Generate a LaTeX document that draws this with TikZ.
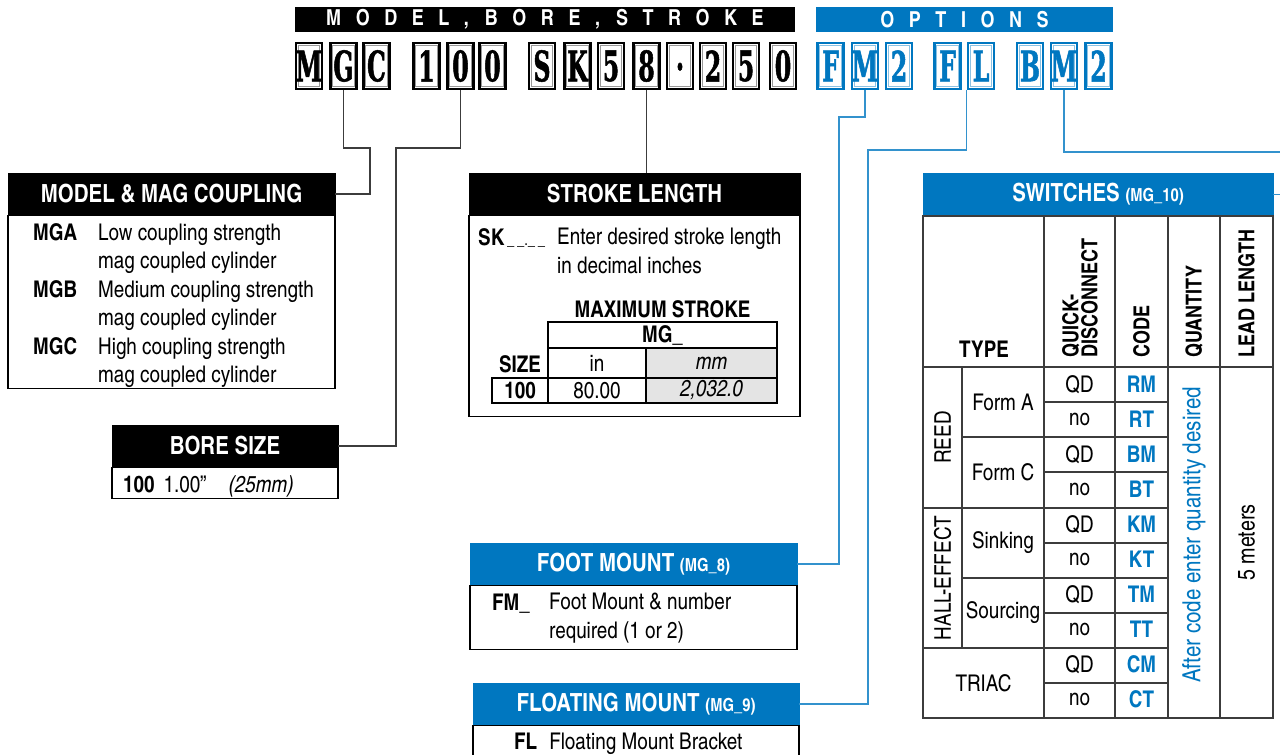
\documentclass[tikz,border=0pt]{standalone}
\usepackage{fontspec}
\setmainfont{texgyreheroscn}[Extension=.otf, UprightFont=*-regular, BoldFont=*-bold, ItalicFont=*-italic, BoldItalicFont=*-bolditalic]
\newfontfamily\slabfont{DejaVu Serif}[UprightFont={* Bold}, FakeStretch=0.56, FakeBold=1.2]
\usetikzlibrary{positioning,calc}
\definecolor{optblue}{RGB}{0,119,192}
\definecolor{gridgray}{RGB}{60,60,60}
\definecolor{cellgray}{RGB}{228,228,228}

\begin{document}
\begin{tikzpicture}[x=1pt, y=-1pt, every node/.style={font=\fontsize{23}{28.5}\selectfont, inner sep=0pt}]
  \tikzset{
    blackkey/.style={draw=black, line width=2.6pt, fill=white, minimum width=26pt, minimum height=46pt,
      font=\slabfont\fontsize{42}{42}\selectfont,
      path picture={\draw[black!40, line width=0.9pt] ([shift={(2.2pt,-2.2pt)}]path picture bounding box.north west) rectangle ([shift={(-2.2pt,2.2pt)}]path picture bounding box.south east);}},
    bluekey/.style={blackkey, draw=optblue, text=optblue,
      path picture={\draw[optblue!45, line width=0.9pt] ([shift={(2.2pt,-2.2pt)}]path picture bounding box.north west) rectangle ([shift={(-2.2pt,2.2pt)}]path picture bounding box.south east);}},
    bar/.style={fill=black, text=white, minimum height=25pt, font=\bfseries\fontsize{22}{22}\selectfont\addfontfeature{LetterSpace=66}},
    headbox/.style={fill=black, draw=black, text=white, minimum height=42pt, font=\bfseries\fontsize{25}{25}\selectfont},
    blueheadbox/.style={headbox, fill=optblue, draw=optblue},
    bodybox/.style={draw=black, line width=1.2pt, fill=white},
    lead/.style={draw=gridgray, line width=1.2pt},
    bluelead/.style={draw=optblue!80, line width=1.2pt},
    cell/.style={draw=black, line width=1.2pt},
    thingrid/.style={draw=gridgray, line width=1.3pt},
    thickgrid/.style={draw=gridgray, line width=2.2pt},
    colhead/.style={rotate=90, anchor=west, align=left, font=\bfseries\fontsize{22}{19}\selectfont}
  }
  \useasboundingbox (0,0) rectangle (1280,755);

  % order code
  \node[bar, minimum width=500] (mbsBar) at (545,19.5) {MODEL,\hspace*{16pt}BORE,\hspace*{16pt}STROKE};
  \node[bar, fill=optblue, minimum width=297] (optBar) at (964.5,19.5) {OPTIONS};

  \node[blackkey] (mM) at (309,66) {M};
  \node[blackkey] (mG) at (343.5,66) {G};
  \node[blackkey] (mC) at (376.5,66) {C};
  \node[blackkey] (b1) at (426.5,66) {1};
  \node[blackkey] (b0a) at (460.5,66) {0};
  \node[blackkey] (b0b) at (492.5,66) {0};
  \node[blackkey] (sS) at (542,66) {S};
  \node[blackkey] (sK) at (577.5,66) {K};
  \node[blackkey] (s5) at (611,66) {5};
  \node[blackkey] (s8) at (646.5,66) {8};
  \node[blackkey] (sDot) at (680,66) {\vphantom{0}·};
  \node[blackkey] (s2) at (713,66) {2};
  \node[blackkey] (s5b) at (746,66) {5};
  \node[blackkey] (s0) at (783,66) {0};

  \node[bluekey] (fmF) at (830.5,66) {F};
  \node[bluekey] (fmM) at (865,66) {M};
  \node[bluekey] (fm2) at (899,66) {2};
  \node[bluekey] (flF) at (947.5,66) {F};
  \node[bluekey] (flL) at (981,66) {L};
  \node[bluekey] (swB) at (1030,66) {B};
  \node[bluekey] (swM) at (1064,66) {M};
  \node[bluekey] (sw2) at (1098.5,66) {2};

  % model
  \node[headbox, minimum width=327] (modelHead) at (171.5,194) {MODEL \& MAG COUPLING};
  \node[bodybox, minimum width=327, minimum height=173, anchor=north] (modelBody) at (modelHead.south) {};
  \node[anchor=base west, align=left] (modelText) at (33,382.5)
    {\makebox[65pt][l]{\bfseries MGA}Low coupling strength\\
     \hspace*{65pt}mag coupled cylinder\\
     \makebox[65pt][l]{\bfseries MGB}Medium coupling strength\\
     \hspace*{65pt}mag coupled cylinder\\
     \makebox[65pt][l]{\bfseries MGC}High coupling strength\\
     \hspace*{65pt}mag coupled cylinder};

  % bore
  \node[headbox, minimum width=226] (boreHead) at (225,446) {BORE SIZE};
  \node[bodybox, minimum width=226, minimum height=31, anchor=north] (boreBody) at (boreHead.south) {};
  \node[anchor=base west] (boreText) at (123,492) {\textbf{100}\hspace{9pt}1.00”\hspace{22pt}\textit{(25mm)}};

  % stroke
  \node[headbox, minimum width=331] (strokeHead) at (634.5,194) {STROKE LENGTH};
  \node[bodybox, minimum width=331, minimum height=201, anchor=north] (strokeBody) at (strokeHead.south) {};
  \node[anchor=base west] (skCode) at (478,245) {\textbf{SK}{\fontsize{16}{16}\selectfont\,\_\,\_.\_\,\_}};
  \node[anchor=base west, align=left] (skText) at (557,273) {Enter desired stroke length\\in decimal inches};
  \node[anchor=base, font=\bfseries\fontsize{23}{23}\selectfont] (maxTitle) at (662.5,317) {MAXIMUM STROKE};
  \node[cell, minimum width=229, minimum height=26, font=\bfseries\fontsize{23}{23}\selectfont] (mgCell) at (662.5,335) {MG\_};
  \node[cell, minimum width=98, minimum height=30] (inCell) at (597,363) {in};
  \node[cell, fill=cellgray, minimum width=131, minimum height=30, font=\itshape\fontsize{23}{23}\selectfont] (mmCell) at (711.5,363) {mm};
  \node[anchor=base, font=\bfseries\fontsize{23}{23}\selectfont] (sizeText) at (520,372) {SIZE};
  \node[cell, minimum width=56, minimum height=25, font=\bfseries\fontsize{23}{23}\selectfont] (sizeCell) at (520,390.5) {100};
  \node[cell, minimum width=98, minimum height=25] (inVal) at (597,390.5) {80.00};
  \node[cell, fill=cellgray, minimum width=131, minimum height=25, font=\itshape\fontsize{23}{23}\selectfont] (mmVal) at (711.5,390.5) {2,032.0};

  % foot and floating mounts
  \node[blueheadbox, minimum width=327] (footHead) at (633.5,564) {FOOT MOUNT {\fontsize{18}{18}\selectfont(MG\_8)}};
  \node[bodybox, minimum width=327, minimum height=64, anchor=north] (footBody) at (footHead.south) {};
  \node[anchor=base west] (fmCode) at (492,610) {\textbf{FM\_}};
  \node[anchor=base west, align=left] (fmText) at (549,638) {Foot Mount \& number\\required (1 or 2)};

  \node[blueheadbox, minimum width=326] (floatHead) at (636,704) {FLOATING MOUNT {\fontsize{18}{18}\selectfont(MG\_9)}};
  \node[bodybox, minimum width=326, minimum height=30, anchor=north] (floatBody) at (floatHead.south) {};
  \node[anchor=base west] (flText) at (514,749) {\textbf{FL}\hspace{12pt}Floating Mount Bracket};

  % switches
  \node[blueheadbox, minimum width=350, minimum height=43] (swHead) at (1098,194.5) {SWITCHES {\fontsize{18}{18}\selectfont(MG\_10)}};
  \draw[thickgrid] (923,216) rectangle (1273,718);
  \draw[thickgrid] (923,367) -- (1273,367);
  \foreach \gx in {1044,1115,1168,1220}
    \draw[thingrid] (\gx,216) -- (\gx,718);
  \draw[thingrid] (962,367) -- (962,648);
  \foreach \gy in {437,578}
    \draw[thickgrid] (962,\gy) -- (1168,\gy);
  \foreach \gy in {508,648}
    \draw[thickgrid] (923,\gy) -- (1168,\gy);
  \foreach \gy in {402,472,543,613,683}
    \draw[thingrid] (1044,\gy) -- (1168,\gy);

  \node[anchor=base, font=\bfseries\fontsize{23}{23}\selectfont] (typeHead) at (984,357) {TYPE};
  \node[colhead] (qdHead) at (1080,358) {QUICK-\\DISCONNECT};
  \node[colhead] (codeHead) at (1141.5,358) {CODE};
  \node[colhead] (qtyHead) at (1194,358) {QUANTITY};
  \node[colhead] (leadHead) at (1246.5,358) {LEAD LENGTH};

  \node[rotate=90] (reed) at (942.5,437.5) {REED};
  \node[rotate=90] (hall) at (942.5,578) {HALL-EFFECT};
  \node (formA) at (1003,402) {Form A};
  \node (formC) at (1003,472.5) {Form C};
  \node (sinking) at (1003,543) {Sinking};
  \node (sourcing) at (1003,613) {Sourcing};
  \node (triac) at (983.5,683) {TRIAC};
  \foreach \code/\qd [count=\i] in {RM/QD,RT/no,BM/QD,BT/no,KM/QD,KT/no,TM/QD,TT/no,CM/QD,CT/no} {
    \node (qd\i) at (1079.5,349.5+35*\i) {\qd};
    \node[text=optblue, font=\bfseries\fontsize{23}{23}\selectfont] (code\i) at (1141.5,349.5+35*\i) {\code};
  }
  \node[rotate=90, text=optblue, font=\fontsize{25}{25}\selectfont] (qtyText) at (1194,535) {After code enter quantity desired};
  \node[rotate=90, font=\fontsize{24}{24}\selectfont] (leadText) at (1246.5,542.5) {5 meters};

  % leader lines
  \coordinate (gBend) at (370,148);
  \coordinate (boreBend) at (396,148);
  \draw[lead] (mG.south) |- (gBend) |- (modelHead.east);
  \draw[lead] (b0a.south) |- (boreBend) |- (boreHead.east);
  \draw[lead] (s8.south) -- (s8.south |- strokeHead.north);

  \coordinate (fmBend) at (839,117);
  \coordinate (flBend) at (868,150);
  \coordinate (swOffA) at (1290,152);
  \coordinate (swOffB) at (1290,194.5);
  \draw[bluelead] (fmM.south) |- (fmBend) |- (footHead.east);
  \draw[bluelead] (flL.south west) |- (flBend) |- (floatHead.east);
  \draw[bluelead] (swM.south) |- (swOffA) -- (swOffB) -- (swHead.east);
\end{tikzpicture}
\end{document}
